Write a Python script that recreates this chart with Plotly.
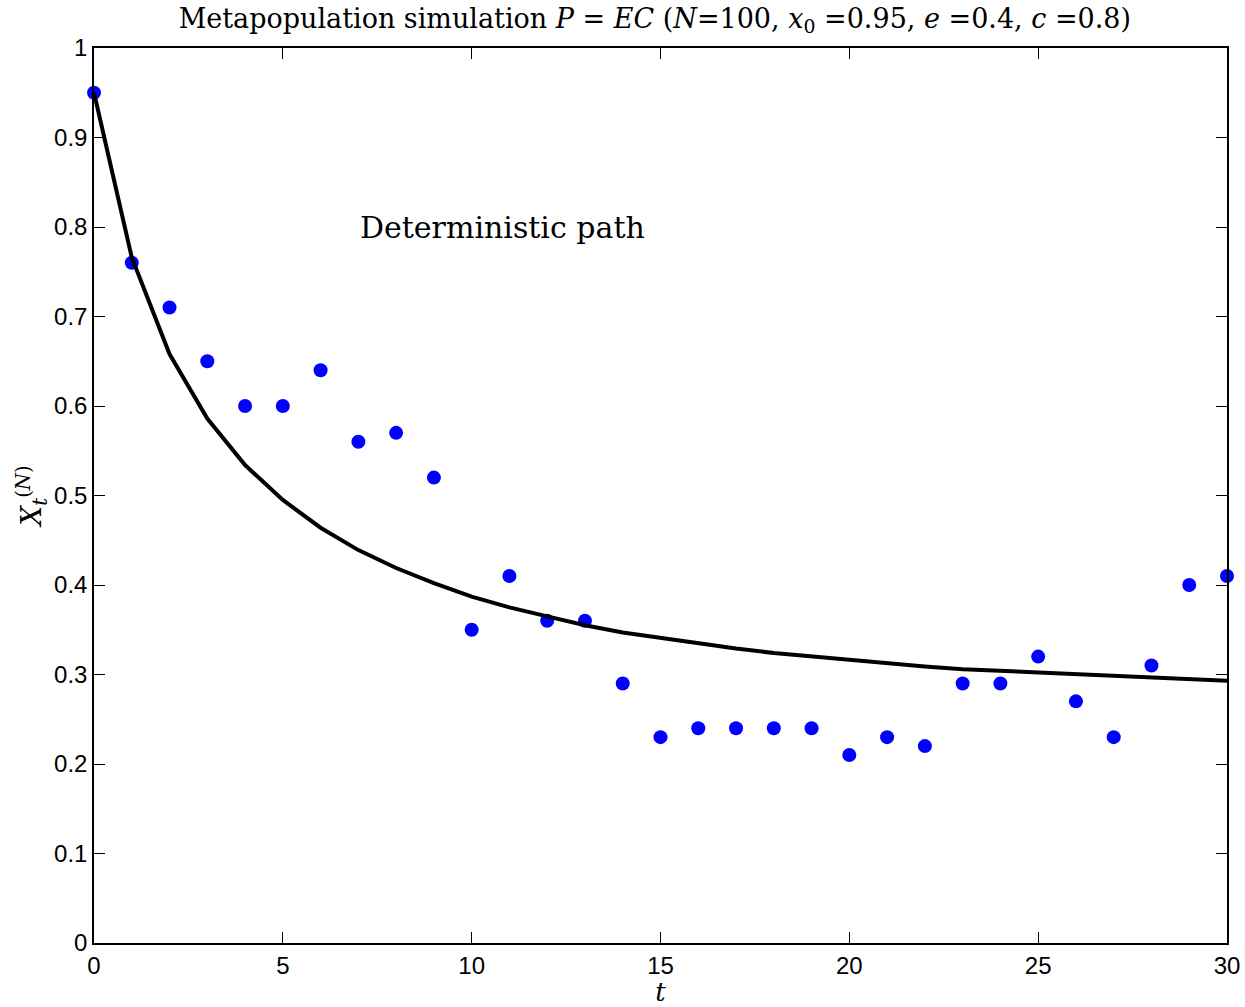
import plotly.graph_objects as go

# time steps
t = list(range(31))

# simulated metapopulation fractions X_t^(N)
x_sim = [0.95, 0.76, 0.71, 0.65, 0.60, 0.60, 0.64, 0.56, 0.57, 0.52,
         0.35, 0.41, 0.36, 0.36, 0.29, 0.23, 0.24, 0.24, 0.24, 0.24,
         0.21, 0.23, 0.22, 0.29, 0.29, 0.32, 0.27, 0.23, 0.31, 0.40, 0.41]

# deterministic path
x_det = [0.95, 0.766, 0.658, 0.586, 0.534, 0.495, 0.464, 0.439, 0.419, 0.402,
         0.387, 0.375, 0.365, 0.355, 0.347, 0.341, 0.334, 0.329, 0.324, 0.320,
         0.316, 0.312, 0.309, 0.306, 0.304, 0.302, 0.300, 0.298, 0.296, 0.294,
         0.293]

x_ticks = [0, 5, 10, 15, 20, 25, 30]
y_ticks = [0, 0.1, 0.2, 0.3, 0.4, 0.5, 0.6, 0.7, 0.8, 0.9, 1]
y_tick_text = ["0", "0.1", "0.2", "0.3", "0.4", "0.5", "0.6", "0.7", "0.8", "0.9", "1"]

serif = "DejaVu Serif, serif"
sans = "Liberation Sans, Arial, sans-serif"

fig = go.Figure()
fig.add_trace(go.Scatter(
    x=t, y=x_sim, mode="markers", cliponaxis=False,
    marker=dict(color="rgb(0,0,255)", size=14, line=dict(width=0)),
    showlegend=False,
))
fig.add_trace(go.Scatter(
    x=t, y=x_det, mode="lines", cliponaxis=False,
    line=dict(color="black", width=4),
    showlegend=False,
))

fig.add_annotation(
    x=7, y=0.8, xref="x", yref="y", text="Deterministic path",
    showarrow=False, xanchor="left", yanchor="middle",
    font=dict(family=serif, size=30, color="black"),
)

axis_common = dict(
    showgrid=False, zeroline=False, showline=True, linecolor="black",
    linewidth=1.5, mirror="ticks", ticks="inside", ticklen=11,
    tickwidth=1, tickcolor="black", automargin=False,
    tickfont=dict(family=sans, size=24, color="black"),
)

fig.update_layout(
    width=1245, height=1007,
    margin=dict(l=94, r=18, t=48, b=64),
    paper_bgcolor="white", plot_bgcolor="white",
    title=dict(
        text=("Metapopulation simulation <i>P</i> = <i>EC</i> (<i>N</i>=100, "
              "<i>x</i><sub>0</sub> =0.95, <i>e</i> =0.4, <i>c</i> =0.8)"),
        x=0.526, xanchor="center", y=0.982, yanchor="middle",
        font=dict(family=serif, size=27, color="black"),
    ),
    xaxis=dict(
        range=[0, 30], tickvals=x_ticks,
        title=dict(text="<i>t</i>", font=dict(family=serif, size=26, color="black"),
                   standoff=2),
        **axis_common,
    ),
    yaxis=dict(
        range=[0, 1], tickvals=y_ticks, ticktext=y_tick_text,
        title=dict(text="<i>X</i><sub><i>t</i></sub><sup>(<i>N</i>)</sup>",
                   font=dict(family=serif, size=28, color="black"), standoff=4),
        **axis_common,
    ),
)

fig.write_html("out.html")
